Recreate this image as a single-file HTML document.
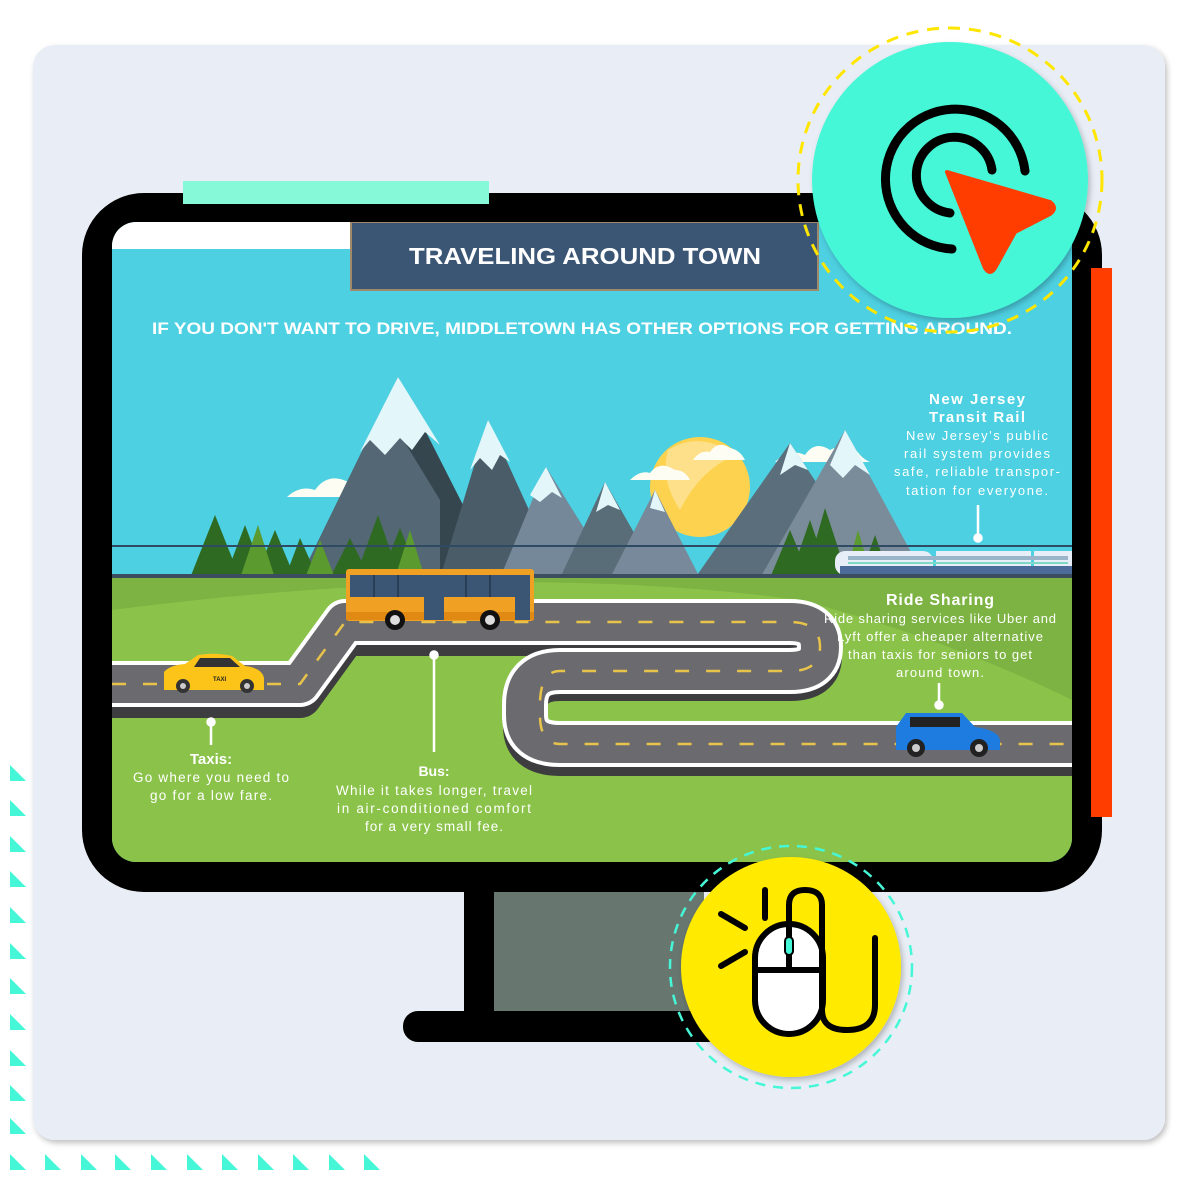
<!DOCTYPE html>
<html><head><meta charset="utf-8"><style>
html,body{margin:0;padding:0;background:#fff;width:1200px;height:1200px;overflow:hidden}
svg{display:block}
text{font-family:"Liberation Sans",sans-serif;fill:#fff}
</style></head><body>
<svg width="1200" height="1200" viewBox="0 0 1200 1200" xmlns="http://www.w3.org/2000/svg">
<defs>
<filter id="sh" x="-10%" y="-10%" width="120%" height="120%"><feDropShadow dx="2" dy="3" stdDeviation="3" flood-color="#000" flood-opacity="0.25"/></filter>
<clipPath id="scr"><rect x="112" y="222" width="960" height="640" rx="24"/></clipPath>
</defs>
<g fill="#45f7d6">
<path d="M10,765 L10,781 L26,781Z"/><path d="M10,800 L10,816 L26,816Z"/><path d="M10,836 L10,852 L26,852Z"/><path d="M10,871 L10,887 L26,887Z"/><path d="M10,907 L10,923 L26,923Z"/><path d="M10,943 L10,959 L26,959Z"/><path d="M10,978 L10,994 L26,994Z"/><path d="M10,1014 L10,1030 L26,1030Z"/><path d="M10,1050 L10,1066 L26,1066Z"/><path d="M10,1085 L10,1101 L26,1101Z"/><path d="M10,1118 L10,1134 L26,1134Z"/>
<path d="M10,1154 L10,1170 L26,1170Z"/><path d="M45,1154 L45,1170 L61,1170Z"/><path d="M81,1154 L81,1170 L97,1170Z"/><path d="M115,1154 L115,1170 L131,1170Z"/><path d="M151,1154 L151,1170 L167,1170Z"/><path d="M187,1154 L187,1170 L203,1170Z"/><path d="M222,1154 L222,1170 L238,1170Z"/><path d="M258,1154 L258,1170 L274,1170Z"/><path d="M293,1154 L293,1170 L309,1170Z"/><path d="M329,1154 L329,1170 L345,1170Z"/><path d="M364,1154 L364,1170 L380,1170Z"/>
</g>
<rect x="33" y="45" width="1132" height="1095" rx="22" fill="#e9eef6" filter="url(#sh)"/>
<rect x="464" y="890" width="30" height="125" fill="#000"/>
<rect x="494" y="890" width="210" height="122" fill="#67766f"/>
<rect x="403" y="1011" width="320" height="31" rx="15" fill="#000"/>
<rect x="82" y="193" width="1020" height="699" rx="62" fill="#000"/>
<rect x="183" y="181" width="306" height="23" fill="#86f9d8"/>
<rect x="1091" y="268" width="21" height="549" fill="#ff3d00"/>
<g clip-path="url(#scr)">
<rect x="112" y="222" width="960" height="640" fill="#4dd0e1"/>
<rect x="112" y="222" width="240" height="27" fill="#fff"/>
<circle cx="700" cy="487" r="50" fill="#fdd24e"/>
<path d="M668,450 Q700,430 735,455 Q700,470 680,510 Q660,480 668,450Z" fill="#fee08a"/>
<g fill="#fdfdf3">
<path d="M287,497 Q300,485 315,490 Q328,472 348,482 Q360,478 372,492 L382,497Z"/>
<path d="M630,480 Q640,470 650,473 Q660,460 675,470 Q685,470 690,480Z"/>
<path d="M693,460 Q700,450 710,452 Q718,440 730,448 Q740,450 745,460Z"/>
<path d="M775,462 Q790,448 805,455 Q815,440 830,450 Q850,440 860,455 Q865,460 870,462Z"/>
</g>
<path d="M300,578 L398,377 L500,578Z" fill="#536774"/>
<path d="M398,377 L500,578 L440,578 L440,500 L385,410Z" fill="#36464f"/>
<path d="M398,377 L440,445 L425,432 L412,450 L400,438 L385,455 L370,440 L360,452Z" fill="#e3f6fa"/>
<path d="M440,578 L488,420 L560,578Z" fill="#495c68"/>
<path d="M488,420 L510,462 L500,455 L492,470 L480,458 L470,470Z" fill="#e3f6fa"/>
<path d="M500,578 L546,467 L615,578Z" fill="#74889a"/>
<path d="M546,467 L562,498 L552,492 L540,502 L530,495Z" fill="#e3f6fa"/>
<path d="M560,578 L605,482 L660,578Z" fill="#596d79"/>
<path d="M605,482 L620,510 L608,505 L596,512 Z" fill="#e3f6fa"/>
<path d="M610,578 L655,490 L700,578Z" fill="#77899a"/>
<path d="M655,490 L665,512 L650,508Z" fill="#e3f6fa"/>
<path d="M695,578 L790,443 L880,578Z" fill="#5a6e7b"/>
<path d="M760,578 L845,430 L925,578Z" fill="#7a8c99"/>
<path d="M790,443 L808,470 L795,465 L780,475Z" fill="#e3f6fa"/>
<path d="M845,430 L870,475 L855,465 L843,478 L830,465Z" fill="#e3f6fa"/>
<g fill="#2f6a22">
<path d="M190,578 L215,515 L240,578Z"/><path d="M225,578 L245,525 L265,578Z"/><path d="M255,578 L275,530 L295,578Z"/><path d="M285,578 L300,538 L318,578Z"/><path d="M330,578 L350,538 L370,578Z"/><path d="M355,578 L378,515 L400,578Z"/><path d="M380,578 L400,528 L420,578Z"/>
<path d="M770,578 L790,530 L810,578Z"/><path d="M790,578 L810,520 L830,578Z"/><path d="M805,578 L825,508 L848,578Z"/><path d="M860,578 L875,535 L890,578Z"/>
</g>
<g fill="#5a9a2e"><path d="M240,578 L258,525 L275,578Z"/><path d="M305,578 L320,540 L335,578Z"/><path d="M395,578 L410,530 L425,578Z"/><path d="M845,578 L858,530 L872,578Z"/></g>
<line x1="112" y1="546" x2="1072" y2="546" stroke="#2f4a63" stroke-width="2"/>
<g>
<rect x="835" y="551" width="98" height="24" rx="10" fill="#e8eef8"/>
<rect x="936" y="551" width="95" height="24" fill="#e8eef8"/>
<rect x="1034" y="551" width="40" height="24" fill="#e8eef8"/>
<rect x="840" y="566" width="234" height="9" fill="#4b6b9a"/>
<rect x="848" y="556" width="220" height="4" fill="#9ab4c9"/>
<rect x="848" y="562" width="220" height="2" fill="#7fd7c8"/>
</g>
<rect x="112" y="574" width="960" height="5" fill="#3b4d5e"/>
<rect x="112" y="578" width="960" height="290" fill="#8bc34a"/>
<path d="M112,578 H1072 V700 Q950,640 800,600 Q500,560 112,610Z" fill="#7cb342"/>
<g fill="none" stroke-linejoin="round" stroke-linecap="butt">
<path d="M112,690 H300 L345,628 H790 Q820,628 820,650 Q820,673 790,673 H560 Q525,673 525,705 V720 Q525,748 560,748 H1072" stroke="#3d3d40" stroke-width="44" transform="translate(0,6)"/>
<path d="M112,684 H300 L345,622 H790 Q820,622 820,647 Q820,671 790,671 H560 Q525,671 525,705 V715 Q525,744 560,744 H1072" stroke="#fff" stroke-width="46"/>
<path d="M112,684 H300 L345,622 H790 Q820,622 820,647 Q820,671 790,671 H560 Q525,671 525,705 V715 Q525,744 560,744 H1072" stroke="#6b6b6f" stroke-width="38"/>
<path d="M112,684 H300 L345,622 H790 Q820,622 820,647 Q820,671 790,671 H560 Q540,671 540,705 V715 Q540,744 560,744 H1072" stroke="#e8c34a" stroke-width="2.5" stroke-dasharray="14 17"/>
</g>
<g>
<path d="M164,690 L164,672 Q170,665 185,664 L198,655 Q215,652 232,656 L245,666 Q262,668 264,678 L264,690Z" fill="#fcc419"/>
<path d="M200,658 L230,658 L240,667 L194,667Z" fill="#333"/>
<circle cx="183" cy="686" r="7" fill="#333"/><circle cx="247" cy="686" r="7" fill="#333"/>
<circle cx="183" cy="686" r="3" fill="#ccc"/><circle cx="247" cy="686" r="3" fill="#ccc"/>
<text x="213" y="681" font-size="6" font-weight="bold" style="fill:#222">TAXI</text>
</g>
<g>
<rect x="346" y="569" width="188" height="52" rx="3" fill="#f0a123"/>
<rect x="346" y="612" width="188" height="8" fill="#e08a14"/>
<rect x="350" y="575" width="180" height="22" fill="#3b5675"/>
<g stroke="#2a3f56" stroke-width="2"><line x1="374" y1="575" x2="374" y2="597"/><line x1="398" y1="575" x2="398" y2="597"/><line x1="466" y1="575" x2="466" y2="597"/><line x1="490" y1="575" x2="490" y2="597"/></g>
<rect x="424" y="575" width="20" height="45" fill="#3b5675"/>
<rect x="515" y="575" width="15" height="45" fill="#3b5675"/>
<circle cx="395" cy="620" r="10" fill="#111"/><circle cx="490" cy="620" r="10" fill="#111"/>
<circle cx="395" cy="620" r="5" fill="#ddd"/><circle cx="490" cy="620" r="5" fill="#ddd"/>
</g>
<g>
<path d="M896,745 L896,727 L906,713 L962,713 L975,727 Q998,730 1000,740 L1000,750 L896,750Z" fill="#1e7be0"/>
<rect x="910" y="717" width="50" height="10" fill="#222"/>
<circle cx="916" cy="748" r="9" fill="#222"/><circle cx="979" cy="748" r="9" fill="#222"/>
<circle cx="916" cy="748" r="4" fill="#ccc"/><circle cx="979" cy="748" r="4" fill="#ccc"/>
</g>
<g stroke="#fff" stroke-width="2.5" fill="#fff">
<line x1="211" y1="722" x2="211" y2="745"/><circle cx="211" cy="722" r="3.5"/>
<line x1="434" y1="655" x2="434" y2="752"/><circle cx="434" cy="655" r="3.5"/>
<line x1="978" y1="505" x2="978" y2="538"/><circle cx="978" cy="538" r="3.5"/>
<line x1="939" y1="683" x2="939" y2="705"/><circle cx="939" cy="705" r="3.5"/>
</g>
<g text-anchor="middle">
<text x="211" y="764" font-size="15" font-weight="bold">Taxis:</text>
<text x="211" y="782" font-size="13.5" textLength="156">Go where you need to</text>
<text x="211" y="800" font-size="13.5" textLength="122">go for a low fare.</text>
<text x="434" y="776" font-size="14" font-weight="bold">Bus:</text>
<text x="434" y="795" font-size="13.5" textLength="196">While it takes longer, travel</text>
<text x="434" y="813" font-size="13.5" textLength="194">in air-conditioned comfort</text>
<text x="434" y="831" font-size="13.5" textLength="138">for a very small fee.</text>
<text x="940" y="605" font-size="16" font-weight="bold" textLength="108">Ride Sharing</text>
<text x="940" y="623" font-size="13" textLength="232">Ride sharing services like Uber and</text>
<text x="940" y="641" font-size="13" textLength="206">Lyft offer a cheaper alternative</text>
<text x="940" y="659" font-size="13" textLength="184">than taxis for seniors to get</text>
<text x="940" y="677" font-size="13" textLength="88">around town.</text>
<text x="977" y="404" font-size="15" font-weight="bold" textLength="96">New Jersey</text>
<text x="977" y="422" font-size="15" font-weight="bold" textLength="96">Transit Rail</text>
<text x="977" y="440" font-size="13" textLength="142">New Jersey's public</text>
<text x="977" y="458" font-size="13" textLength="146">rail system provides</text>
<text x="977" y="476" font-size="13" textLength="166">safe, reliable transpor-</text>
<text x="977" y="495" font-size="13" textLength="142">tation for everyone.</text>
</g>
<rect x="351" y="222" width="467" height="68" fill="#3b5675" stroke="#a08a6a" stroke-width="2"/>
<text x="585" y="264" font-size="23" font-weight="bold" text-anchor="middle" textLength="352" lengthAdjust="spacingAndGlyphs">TRAVELING AROUND TOWN</text>
<text x="582" y="334" font-size="17" font-weight="bold" text-anchor="middle" textLength="860" lengthAdjust="spacingAndGlyphs">IF YOU DON'T WANT TO DRIVE, MIDDLETOWN HAS OTHER OPTIONS FOR GETTING AROUND.</text>
</g>
<circle cx="950" cy="180" r="152" fill="none" stroke="#ffe600" stroke-width="3" stroke-dasharray="12 9"/>
<circle cx="950" cy="180" r="138" fill="#45f7d6" filter="url(#sh)"/>
<g fill="none" stroke="#000" stroke-width="9" stroke-linecap="round">
<path d="M952,249 A70,70 0 1 1 1025,171"/>
<path d="M950,213 A38,38 0 1 1 992,170"/>
</g>
<path d="M947,172 L1050,202 Q1058,208 1050,214 L1015,232 L995,268 Q990,276 985,268Z" fill="#ff3d00" stroke="#ff3d00" stroke-width="4" stroke-linejoin="round"/>
<circle cx="791" cy="967" r="121" fill="none" stroke="#45f7d6" stroke-width="2.5" stroke-dasharray="10 8"/>
<circle cx="791" cy="967" r="110" fill="#ffea00" filter="url(#sh)"/>
<g stroke="#000" stroke-width="6" stroke-linecap="round" fill="none">
<rect x="755" y="924" width="68" height="110" rx="34" fill="#fff"/>
<line x1="755" y1="970" x2="823" y2="970"/>
<line x1="789" y1="924" x2="789" y2="970"/>
<path d="M789,924 V905 Q789,890 805,890 Q822,890 822,905 V1010 Q822,1030 847,1030 Q875,1030 875,1005 V938"/>
<line x1="765" y1="890" x2="765" y2="918"/>
<line x1="721" y1="914" x2="745" y2="928"/>
<line x1="721" y1="966" x2="745" y2="952"/>
</g>
<rect x="785" y="937" width="8" height="18" rx="4" fill="#45f7d6" stroke="#000" stroke-width="2"/>
</svg>
</body></html>
